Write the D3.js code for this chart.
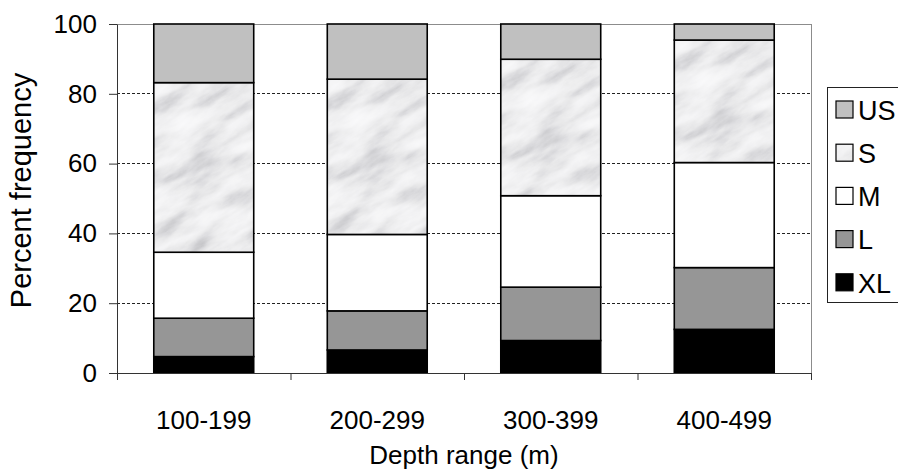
<!DOCTYPE html>
<html>
<head>
<meta charset="utf-8">
<script src="https://cdn.jsdelivr.net/npm/d3@7/dist/d3.min.js"></script>
<style>
  html, body { margin: 0; padding: 0; background: #fff; }
  svg { display: block; font-family: "Liberation Sans", Arial, sans-serif; }
</style>
</head>
<body>
<svg id="chart" width="898" height="475"></svg>
<script>
// Size-class composition of catches by depth band
const categories = ["100-199", "200-299", "300-399", "400-499"];
const sizeClasses = ["XL", "L", "M", "S", "US"];
const XL = [4.7, 6.6, 9.3, 12.5];
const L  = [11.0, 11.2, 15.3, 17.7];
const M  = [18.9, 21.9, 26.2, 30.1];
const S  = [48.6, 44.5, 39.1, 35.1];
const US = [16.8, 15.8, 10.1, 4.6];
const yTicks = [0, 20, 40, 60, 80, 100];
const legendOrder = ["US", "S", "M", "L", "XL"];

const rows = categories.map((c, i) => ({
  range: c, XL: XL[i], L: L[i], M: M[i], S: S[i], US: US[i]
}));

const fills = { XL: "#000000", L: "#969696", M: "#ffffff", S: "marble", US: "#c0c0c0" };
const FONT = "Liberation Sans, Arial, sans-serif";

const svg = d3.select("#chart");
const plot = { left: 117, right: 811, top: 24, bottom: 373 };

const x = d3.scaleBand().domain(categories)
  .range([plot.left, plot.right]).paddingInner(0.424).paddingOuter(0.212);
const y = d3.scaleLinear().domain([0, 100]).range([plot.bottom, plot.top]);

// Marble texture for the S class
const defs = svg.append("defs");
const filt = defs.append("filter").attr("id", "marbleFx")
  .attr("x", 0).attr("y", 0).attr("width", 1).attr("height", 1)
  .attr("filterUnits", "objectBoundingBox");
filt.append("feTurbulence").attr("type", "fractalNoise")
  .attr("baseFrequency", "0.018 0.055").attr("numOctaves", 6).attr("seed", 11);
filt.append("feColorMatrix").attr("type", "matrix")
  .attr("values", "1 0 0 0 0  1 0 0 0 0  1 0 0 0 0  0 0 0 0 1");
const ct = filt.append("feComponentTransfer");
const tableGray = "0.96 0.95 0.93 0.9 0.86 0.8 0.72 0.63 0.55 0.48";
ct.append("feFuncR").attr("type", "table").attr("tableValues", tableGray);
ct.append("feFuncG").attr("type", "table").attr("tableValues", tableGray);
ct.append("feFuncB").attr("type", "table").attr("tableValues", "0.97 0.96 0.94 0.91 0.87 0.81 0.74 0.65 0.57 0.5");

const TILE = 520;
function marblePattern(id, x0, y0) {
  const p = defs.append("pattern").attr("id", id)
    .attr("patternUnits", "userSpaceOnUse")
    .attr("x", x0 - TILE / 2).attr("y", y0 - TILE / 2)
    .attr("width", TILE).attr("height", TILE)
    .attr("patternTransform", `rotate(-30 ${x0 + 50} ${y0 + 80})`);
  p.append("rect").attr("width", TILE).attr("height", TILE).attr("fill", "#eee")
    .attr("filter", "url(#marbleFx)");
}

// Gridlines
const grid = svg.append("g");
grid.selectAll("line").data(yTicks.filter(t => t > 0 && t < 100)).join("line")
  .attr("x1", plot.left).attr("x2", plot.right)
  .attr("y1", d => y(d)).attr("y2", d => y(d))
  .attr("stroke", "#222").attr("stroke-width", 1).attr("stroke-dasharray", "3,2")
  .attr("shape-rendering", "crispEdges");

// Plot frame (top and right)
svg.append("path")
  .attr("d", `M${plot.left},${y(100)}H${plot.right}V${plot.bottom}`)
  .attr("fill", "none").attr("stroke", "#8c8c8c").attr("stroke-width", 1)
  .attr("shape-rendering", "crispEdges");

// Stacked bars
const stack = d3.stack().keys(sizeClasses)(rows);
const layers = svg.append("g").selectAll("g").data(stack).join("g");
layers.each(function (layer) {
  const key = layer.key;
  d3.select(this).selectAll("rect").data(layer).join("rect")
    .attr("x", d => x(d.data.range))
    .attr("y", d => y(d[1]))
    .attr("width", x.bandwidth())
    .attr("height", d => y(d[0]) - y(d[1]))
    .attr("fill", (d, i) => {
      if (fills[key] !== "marble") return fills[key];
      const id = "marble" + i;
      marblePattern(id, x(d.data.range), y(d[1]));
      return `url(#${id})`;
    })
    .attr("stroke", "#000").attr("stroke-width", 1.6);
});

// Y axis
const yAxis = svg.append("g").attr("transform", `translate(${plot.left},0)`)
  .call(d3.axisLeft(y).tickValues(yTicks).tickSize(8).tickPadding(12).tickSizeOuter(0));
yAxis.select(".domain").attr("stroke", "#333");
yAxis.selectAll(".tick line").attr("stroke", "#333");
yAxis.selectAll("text").attr("font-size", 26).attr("fill", "#000").attr("font-family", FONT);

// X axis: boundary ticks and category labels
const xb = d3.scaleLinear().domain([0, categories.length]).range([plot.left, plot.right]);
const xAxisTicks = svg.append("g").attr("transform", `translate(0,${plot.bottom})`)
  .call(d3.axisBottom(xb).tickValues(d3.range(categories.length + 1)).tickFormat("").tickSize(7).tickSizeOuter(0));
xAxisTicks.select(".domain").attr("stroke", "#333");
xAxisTicks.selectAll(".tick line").attr("stroke", "#333");

const xAxisLabels = svg.append("g").attr("transform", `translate(0,${plot.bottom})`)
  .call(d3.axisBottom(x).tickSize(0).tickPadding(38));
xAxisLabels.select(".domain").remove();
xAxisLabels.selectAll("text").attr("font-size", 26).attr("fill", "#000").attr("font-family", FONT);

// Axis titles
svg.append("text").attr("x", (plot.left + plot.right) / 2).attr("y", 464)
  .attr("text-anchor", "middle").attr("font-size", 26).attr("font-family", FONT)
  .text("Depth range (m)");
svg.append("text")
  .attr("transform", `translate(31,${(plot.top + plot.bottom) / 2 - 8}) rotate(-90)`)
  .attr("text-anchor", "middle").attr("font-size", 29).attr("font-family", FONT)
  .text("Percent frequency");

// Legend
const lg = svg.append("g");
lg.append("rect").attr("x", 827.5).attr("y", 87.5).attr("width", 80).attr("height", 215)
  .attr("fill", "#fff").attr("stroke", "#222").attr("stroke-width", 1);
marblePattern("marbleLegend", 790, 100);
const items = lg.selectAll("g.item").data(legendOrder).join("g").attr("class", "item")
  .attr("transform", (d, i) => `translate(836,${110 + i * 43.2})`);
items.append("rect").attr("x", 0).attr("y", -9).attr("width", 17).attr("height", 17)
  .attr("fill", d => fills[d] === "marble" ? "url(#marbleLegend)" : fills[d])
  .attr("stroke", "#000").attr("stroke-width", 1.2);
items.append("text").attr("x", 22).attr("y", 0).attr("dy", "0.36em")
  .attr("font-size", 27).attr("font-family", FONT).text(d => d);
</script>
</body>
</html>
